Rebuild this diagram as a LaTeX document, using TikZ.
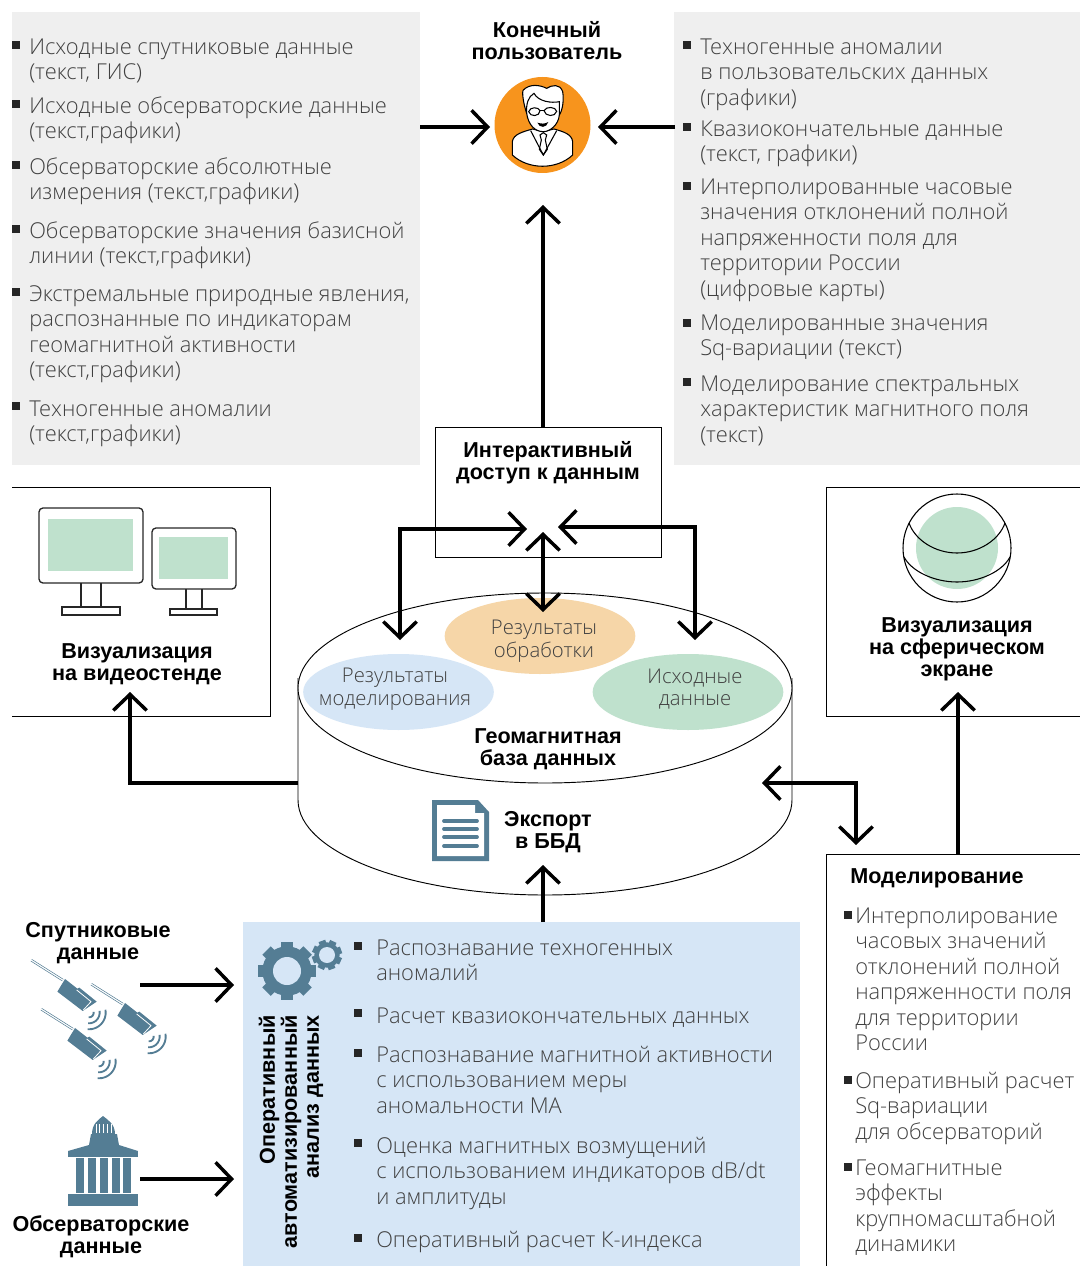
\documentclass[tikz,border=0pt]{standalone}
\usepackage{fontspec}
\setmainfont{Liberation Sans}
\newfontfamily\lightf{Open Sans Light}
\usetikzlibrary{arrows.meta,shapes.geometric}
\definecolor{panelgray}{HTML}{EFEFEF}
\definecolor{panelblue}{HTML}{D6E6F6}
\definecolor{icon}{HTML}{547D94}
\definecolor{mint}{HTML}{BFE1CD}
\definecolor{sand}{HTML}{F6D6A8}
\definecolor{orangeuser}{HTML}{F7941D}
\definecolor{txtgray}{HTML}{404040}
\tikzset{
  x=0.75pt,y=-0.75pt,
  arr/.style={line width=2.6pt,-{Straight Barb[length=12pt,width=25pt]}},
  biarr/.style={line width=2.6pt,{Straight Barb[length=12pt,width=25pt]}-{Straight Barb[length=12pt,width=25pt]}},
  bul/.style={fill=black!85,inner sep=0pt,minimum size=6pt},
  itx/.style={inner sep=0pt,anchor=north west,align=left,text=txtgray,font=\lightf\fontsize{16.4}{19.1}\selectfont},
  hd/.style={inner sep=0pt,align=center,font=\bfseries\fontsize{16.2}{16.5}\selectfont},
  oval/.style={ellipse,inner sep=0pt,minimum width=143pt,minimum height=57pt},
  ovt/.style={inner sep=0pt,align=center,text=txtgray,font=\lightf\fontsize{15.2}{17}\selectfont},
  thin1/.style={line width=0.7pt,draw=black},
  icn/.style={line width=1pt,draw=black!85},
}
% name, bullet x, bullet y, text x, first baseline, text
\newcommand\itm[6]{%
  \node[bul] (#1b) at (#2,#3) {};
  \node[itx] (#1) at (#4,{#5-17.8}) {\strut #6};
}
\begin{document}
\begin{tikzpicture}
\useasboundingbox (0,0) rectangle (1080,1266);
% panels
\fill[panelgray] (12,12) rectangle (420,465);
\fill[panelgray] (674,12) rectangle (1080,465);
\fill[panelblue] (243,922) rectangle (800,1266);
% left list
\itm{la}{16}{45}{29}{54}{Исходные спутниковые данные\\(текст, ГИС)}
\itm{lb}{16}{104}{29}{113}{Исходные обсерваторские данные\\(текст,графики)}
\itm{lc}{16}{165}{29}{174}{Обсерваторские абсолютные\\измерения (текст,графики)}
\itm{ld}{16}{229}{29}{238}{Обсерваторские значения базисной\\линии (текст,графики)}
\itm{le}{16}{292}{29}{301}{Экстремальные природные явления,\\распознанные по индикаторам\\геомагнитной активности\\(текст,графики)}
\itm{lf}{16}{406}{29}{416}{Техногенные аномалии\\(текст,графики)}
% right list
\itm{ra}{687}{45}{700}{54}{Техногенные аномалии\\в пользовательских данных\\(графики)}
\itm{rb}{687}{127}{700}{136}{Квазиокончательные данные\\(текст, графики)}
\itm{rc}{687}{186}{700}{194}{Интерполированные часовые\\значения отклонений полной\\напряженности поля для\\территории России\\(цифровые карты)}
\itm{rd}{687}{323}{700}{330}{Моделированные значения\\Sq-вариации (текст)}
\itm{re}{687}{382}{700}{391}{Моделирование спектральных\\характеристик магнитного поля\\(текст)}
% blue list
\itm{ba}{358}{946}{376}{955}{Распознавание техногенных\\аномалий}
\itm{bb}{358}{1013}{376}{1023}{Расчет квазиокончательных данных}
\itm{bc}{358}{1053}{376}{1062}{Распознавание магнитной активности\\с использованием меры\\аномальности МА}
\itm{bd}{358}{1143}{376}{1153}{Оценка магнитных возмущений\\с использованием индикаторов dB/dt\\и амплитуды}
\itm{be}{358}{1238}{376}{1247}{Оперативный расчет К-индекса}
% frames
\draw[thin1] (12,487) -- (270,487) -- (270,716) -- (12,716);
\draw[thin1] (1080,487) -- (826,487) -- (826,716) -- (1080,716);
\draw[thin1] (1080,854) -- (826,854) -- (826,1266);
\node[draw=black,line width=0.7pt,inner sep=0pt,minimum width=170pt,minimum height=97.5pt] (iact) at (548.5,492) {};
% modelling list
\node[hd,anchor=west] (modh) at (850,878) {Моделирование};
\itm{ma}{848}{915}{855}{923}{Интерполирование\\часовых значений\\отклонений полной\\напряженности поля\\для территории\\России}
\itm{mb}{848}{1080}{855}{1088}{Оперативный расчет\\Sq-вариации\\для обсерваторий}
\itm{mc}{848}{1167}{855}{1175}{Геомагнитные\\эффекты\\крупномасштабной\\динамики}
% cylinder
\draw[thin1,fill=white] (298,678) -- (298,800) .. controls (298,852.5) and (409,895) .. (545,895) .. controls (681,895) and (792,852.5) .. (792,800) -- (792,678);
\node[ellipse,draw=black,line width=0.7pt,fill=white,inner sep=0pt,minimum width=370.5pt,minimum height=142.5pt] (dbtop) at (545,688) {};
\node[oval,fill=sand] (res) at (540,636) {};
\node[oval,fill=panelblue] (mdl) at (398.5,692) {};
\node[oval,fill=mint] (src) at (688,692) {};
\node[ovt] (rest) at (544,641) {Результаты\\обработки};
\node[ovt] (mdlt) at (395,689) {Результаты\\моделирования};
\node[ovt] (srct) at (695,689) {Исходные\\данные};
\node[hd] (gdb) at (548,749) {Геомагнитная\\база данных};
\node[hd] (exp) at (548,832) {Экспорт\\в ББД};
% labels
\node[hd] (enduser) at (547,41) {Конечный\\пользователь};
\node[hd] (iactt) at (548,463) {Интерактивный\\доступ к данным};
\node[hd] (vidt) at (137,664) {Визуализация\\на видеостенде};
\node[hd] (sphet) at (957,649) {Визуализация\\на сферическом\\экране};
\node[hd] (satt) at (98,943) {Спутниковые\\данные};
\node[hd] (obst) at (101,1237) {Обсерваторские\\данные};
\node[hd,rotate=90,anchor=east,align=right] (opt) at (291,1015) {Оперативный\\автоматизированный\\анализ данных};
% user icon
\node[circle,fill=orangeuser,inner sep=0pt,minimum size=72pt] (user) at (542.5,125) {};
\begin{scope}[shift={(480,60)},x=0.25pt,y=-0.25pt,line width=0.8pt]
  \draw[fill=white] (97,285) -- (97,245) .. controls (100,222) and (130,215) .. (158,207) -- (190,215) -- (222,207) .. controls (250,215) and (275,222) .. (278,245) -- (278,285) .. controls (230,330) and (145,330) .. (97,285) -- cycle;
  \draw[fill=white] (140,160) .. controls (130,130) and (125,95) .. (130,90) .. controls (150,70) and (180,75) .. (200,85) .. controls (215,75) and (240,70) .. (248,95) .. controls (252,120) and (248,150) .. (238,165) .. controls (235,195) and (210,215) .. (190,215) .. controls (165,215) and (145,195) .. (140,160) -- cycle;
  \draw (140,160) .. controls (138,130) and (145,110) .. (162,100) .. controls (175,125) and (215,130) .. (238,125) -- (238,165);
  \draw[fill=white] (146,155) .. controls (150,140) and (175,140) .. (180,152) .. controls (180,170) and (150,172) .. (146,155) -- cycle;
  \draw[fill=white] (192,152) .. controls (198,138) and (228,140) .. (230,154) .. controls (226,172) and (195,170) .. (192,152) -- cycle;
  \draw (180,152) -- (192,152);
  \fill[black] (172,188) .. controls (185,192) and (195,192) .. (205,186) .. controls (200,205) and (178,205) .. (172,188) -- cycle;
  \draw (152,212) -- (190,285) -- (230,212);
  \draw (180,225) -- (190,218) -- (200,225) -- (196,240) -- (202,268) -- (190,285) -- (178,268) -- (184,240) -- cycle;
\end{scope}
% monitors
\begin{scope}[icn]
  \draw[rounded corners=3] (39,508) rectangle (143,583);
  \fill[mint] (48,519) rectangle (133,571);
  \draw (81,583) -- (81,607) (101,583) -- (101,607);
  \draw (62,607) rectangle (120,615);
  \draw[rounded corners=3] (152,528) rectangle (236,589);
  \fill[mint] (159,537) rectangle (228,579);
  \draw (186,589) -- (186,609) (202,589) -- (202,609);
  \draw (170,609) rectangle (217,615);
\end{scope}
% sphere
\fill[mint] (957,548) circle[radius=30.75pt];
\begin{scope}[line width=0.8pt]
  \draw (957,548) circle[radius=40.5pt];
  \draw (909,523) .. controls (915,540) and (935,553) .. (957,553) .. controls (979,553) and (999,540) .. (1005,523);
  \draw (904,557) .. controls (912,572) and (935,582) .. (957,582) .. controls (979,582) and (1002,572) .. (1010,557);
\end{scope}
% document
\fill[icon] (432,800) -- (478,800) -- (489,812) -- (489,861) -- (432,861) -- cycle;
\fill[white] (437,805) -- (475,805) -- (475,813) -- (484,813) -- (484,856) -- (437,856) -- cycle;
\foreach \ly in {821,829,837,846} \draw[icon,line width=2.8pt,line cap=round] (444,\ly) -- (477,\ly);
% gears
\foreach \a in {0,45,...,315}
  \fill[icon,rotate around={\a:(287,971)}] (281,942) rectangle (293,955);
\fill[icon] (287,971) circle[radius=18.5pt];
\fill[panelblue] (287,971) circle[radius=10.5pt];
\foreach \a in {0,45,...,315}
  \fill[icon,rotate around={\a+20:(327,955)}] (323.5,940) rectangle (330.5,950);
\fill[icon] (327,955) circle[radius=9.5pt];
\fill[panelblue] (327,955) circle[radius=6pt];
% satellites
\foreach \sx/\sy in {31.7/959.3,91.7/983.3,41.7/1008.3}{
\begin{scope}[shift={(\sx,\sy)},x=0.25pt,y=-0.25pt]
  \draw[icon,line width=0.4pt] (0,0) -- (95,60) (-3,5) -- (92,65);
  \fill[icon] (100,59) -- (137,88) -- (143,85) -- (195,127) -- (153,155) -- (77,97) -- cycle;
  \draw[white,line width=0.6pt] (135,92) -- (178,127) -- (155,152);
  \foreach \r in {14,32,50}
    \draw[icon,line width=1.4pt] plot[smooth,domain=-10:95,samples=8] ({172+\r*cos(\x)},{160+\r*sin(\x)});
\end{scope}}
% building
\fill[icon] (68,1194) rectangle (138,1206);
\fill[icon] (68,1151) rectangle (138,1157);
\foreach \cx in {76,88,100,112,123} \fill[icon] (\cx,1158) rectangle (\cx+8,1193);
\fill[icon] (68,1151) -- (89,1145) -- (91,1134) -- (117,1134) -- (119,1145) -- (138,1151) -- cycle;
\fill[icon] (92,1134) .. controls (92,1124) and (98,1120) .. (103,1116) .. controls (108,1120) and (115,1124) .. (115,1134) -- cycle;
\foreach \dx in {96,99.5,103.5,107,111} \draw[white,line width=0.6pt] (\dx,1133) -- (\dx,1124);
% connectors
\coordinate (ul) at (420,127); \coordinate (ult) at (490,127);
\coordinate (ur) at (675,127); \coordinate (urt) at (598,127);
\coordinate (up) at (543,205);
\coordinate (vm) at (543,532); \coordinate (vb) at (543,612);
\coordinate (lt) at (527,529); \coordinate (lc) at (400,529); \coordinate (lb) at (400,640);
\coordinate (rt) at (558,527); \coordinate (rcn) at (695,527); \coordinate (rbn) at (695,640);
\coordinate (ve) at (298,783); \coordinate (vc) at (130,783); \coordinate (vt) at (130,692);
\coordinate (me) at (762,783); \coordinate (mc2) at (856,783); \coordinate (mt) at (856,845);
\coordinate (sb) at (958,854); \coordinate (st) at (958,692);
\coordinate (xb) at (543,922); \coordinate (xt) at (543,865);
\coordinate (s1) at (140,985); \coordinate (s2) at (234,985);
\coordinate (o1) at (140,1179); \coordinate (o2) at (234,1179);
\draw[arr] (ul) -- (ult);
\draw[arr] (ur) -- (urt);
\draw[arr] (iact.north -| up) -- (up);
\draw[biarr] (vm) -- (vb);
\draw[biarr] (lt) -- (lc) -- (lb);
\draw[biarr] (rt) -- (rcn) -- (rbn);
\draw[arr] (ve) -- (vc) -- (vt);
\draw[biarr] (me) -- (mc2) -- (mt);
\draw[arr] (sb) -- (st);
\draw[arr] (xb) -- (xt);
\draw[arr] (s1) -- (s2);
\draw[arr] (o1) -- (o2);
\end{tikzpicture}
\end{document}
